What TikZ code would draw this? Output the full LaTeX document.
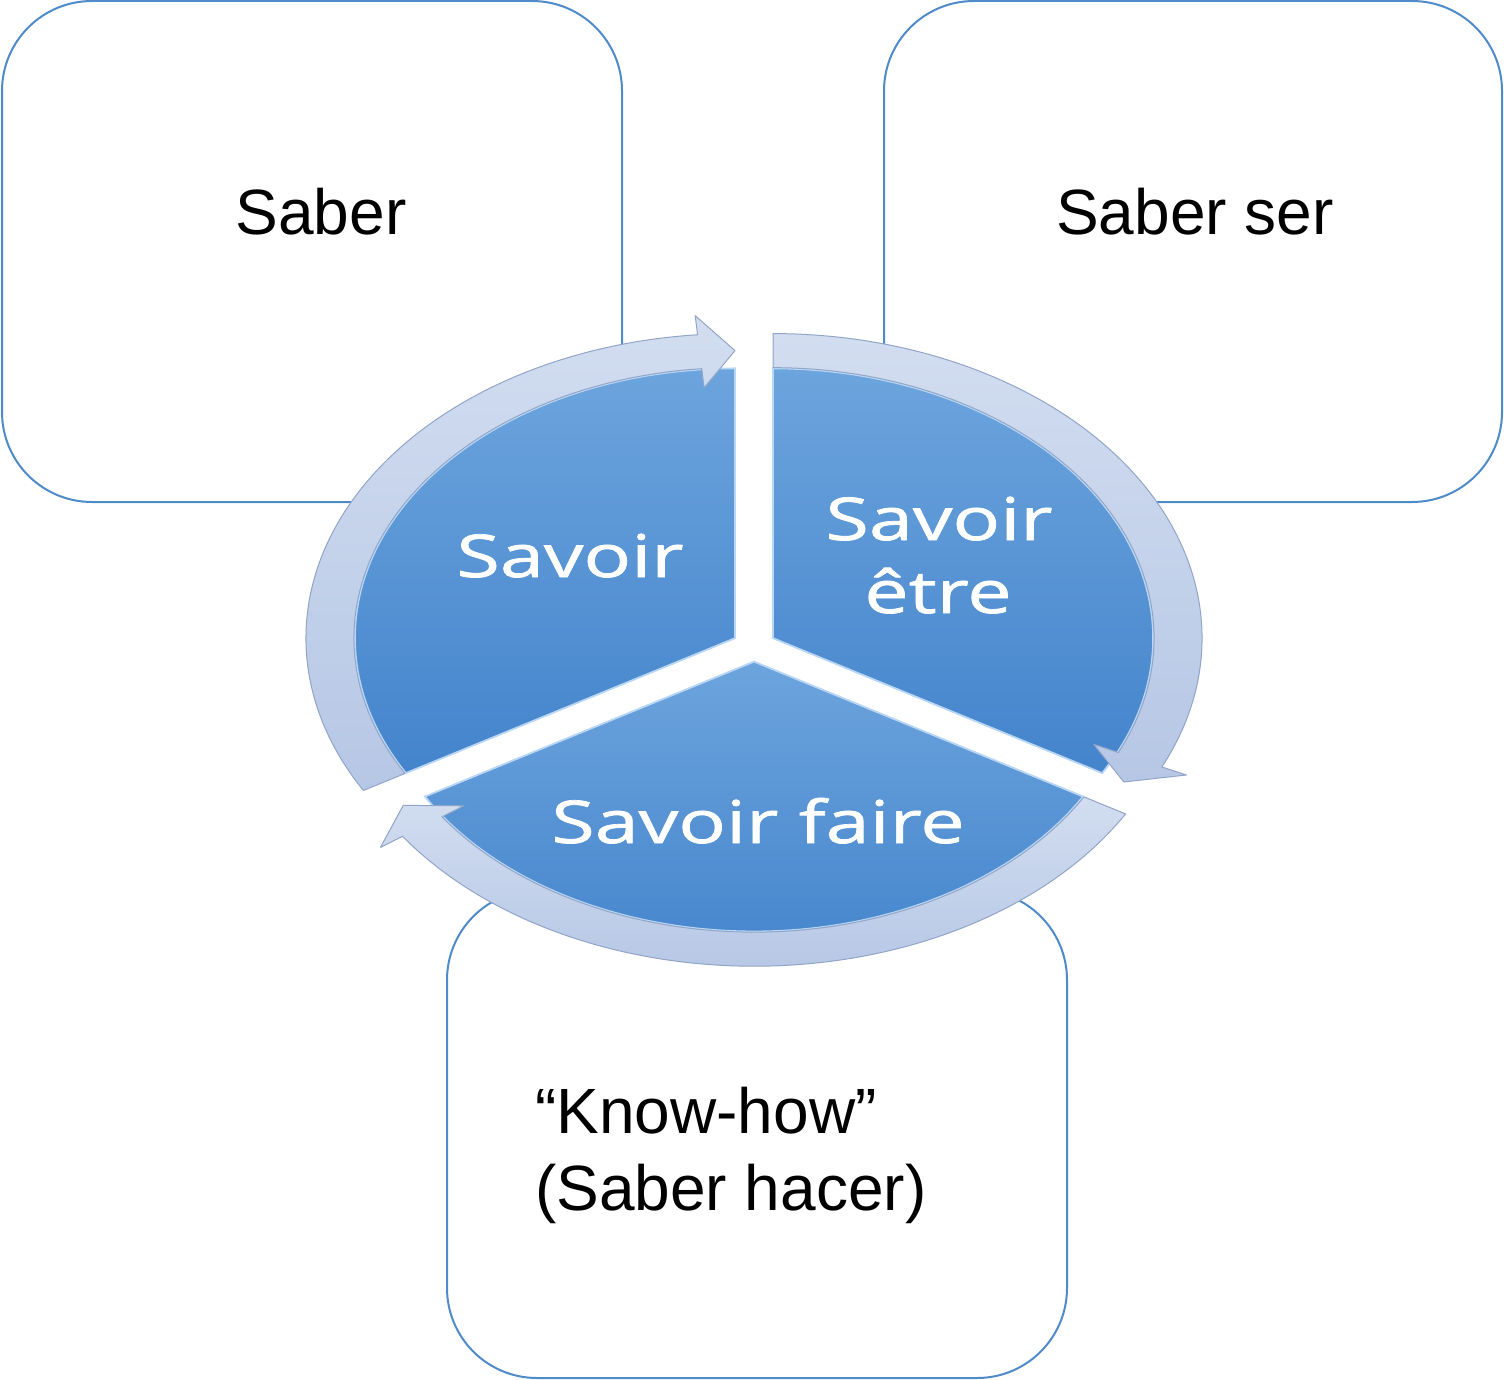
\documentclass[tikz,border=0pt]{standalone}
\usepackage{fontspec}
\setmainfont{Liberation Sans}
\newfontfamily\pief[FakeStretch=1.34,FakeBold=1.2]{Open Sans}
\definecolor{boxblue}{RGB}{79,138,201}
\definecolor{secTop}{RGB}{108,164,221}
\definecolor{secBot}{RGB}{68,132,204}
\definecolor{bandTop}{RGB}{210,221,240}
\definecolor{bandBot}{RGB}{182,199,229}
\definecolor{bandEdge}{RGB}{145,165,200}
\definecolor{secEdge}{RGB}{185,215,245}
\begin{document}
\begin{tikzpicture}[x=1pt,y=1pt,
  roundbox/.style={draw=boxblue, line width=2pt, fill=white, rounded corners=90pt, inner sep=0pt},
  boxtext/.style={font=\fontsize{64}{75}\selectfont, text=black, inner sep=0pt},
  pietext/.style={font=\pief\fontsize{59}{73}\selectfont, text=white, inner sep=0pt},
  sector/.style={top color=secTop, bottom color=secBot, draw=secEdge, line width=1.8pt},
  band/.style={top color=bandTop, bottom color=bandBot, draw=bandEdge, line width=1pt, line join=round}]
\useasboundingbox (0,0) rectangle (1504,-1380);
\fill[white] (0,0) rectangle (1504,-1380);

% boxes
\node[roundbox, minimum width=620pt, minimum height=501pt] (boxL) at (312,-251.5) {};
\node[roundbox, minimum width=618pt, minimum height=501pt] (boxR) at (1193,-251.5) {};
\node[roundbox, minimum width=620pt, minimum height=488pt] (boxB) at (757,-1134) {};

\node[boxtext, anchor=base] (saber) at (321,-235) {Saber};
\node[boxtext, anchor=base] (saberser) at (1195,-235) {Saber ser};
\node[boxtext, anchor=base west] (knowhow) at (535,-1133) {“Know-how”};
\node[boxtext, anchor=base west] (saberhacer) at (535,-1210) {(Saber hacer)};

% segmented cycle
\begin{scope}[shift={(754,-646)}, yscale=0.71]
  \foreach \s/\e/\b in {210/90/150, 90/-30/30, -30/-150/-90}{
    \begin{scope}[shift={(\b:22)}]
      \path[sector] (0,0) -- (\e:380) arc[start angle=\e, end angle=\s, radius=380] -- cycle;
      \pgfmathsetmacro{\h}{\e+5}
      \path[band] (\s:381) arc[start angle=\s, end angle=\h, radius=381]
        -- (\h:354) -- (\e:405) -- (\h:456) -- (\h:429)
        arc[start angle=\h, end angle=\s, radius=429] -- cycle;
    \end{scope}
  }
\end{scope}

\node[pietext, anchor=base] (savoir) at (570,-577) {Savoir};
\node[pietext, anchor=base] (savoiretre1) at (939,-540) {Savoir};
\node[pietext, anchor=base] (savoiretre2) at (938,-613) {être};
\node[pietext, anchor=base] (savoirfaire) at (758,-843) {Savoir faire};
\end{tikzpicture}
\end{document}
